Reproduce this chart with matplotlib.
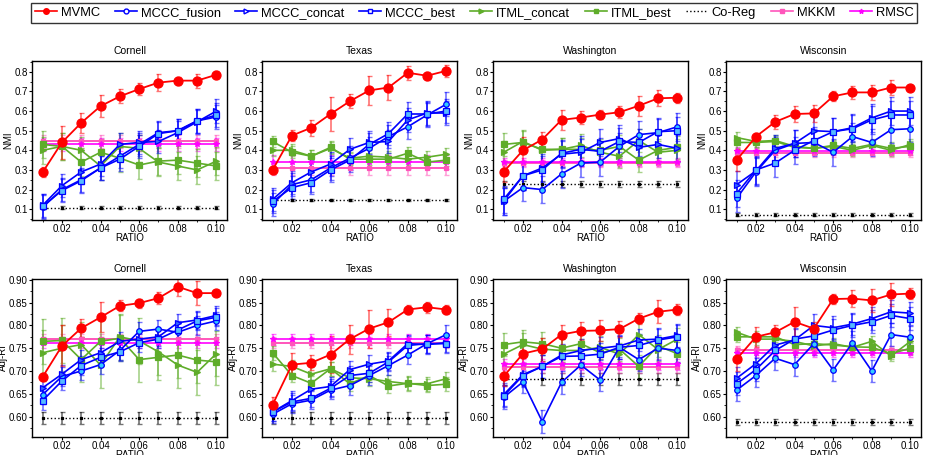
import matplotlib
matplotlib.use('Agg')
import matplotlib.pyplot as plt
from matplotlib.lines import Line2D
from matplotlib.colors import to_rgba
from matplotlib.ticker import MultipleLocator, FormatStrFormatter
import numpy as np

plt.rcParams['font.family'] = ['Liberation Sans', 'DejaVu Sans']

ratio = [0.01, 0.02, 0.03, 0.04, 0.05, 0.06, 0.07, 0.08, 0.09, 0.10]
datasets = ['Cornell', 'Texas', 'Washington', 'Wisconsin']
method_names = ['MVMC', 'MCCC_fusion', 'MCCC_concat', 'MCCC_best', 'ITML_concat',
                'ITML_best', 'Co-Reg', 'MKKM', 'RMSC']

# ---------------- NMI (rows: Cornell, Texas, Washington, Wisconsin) ----------------
mvmc_nmi = [[0.288, 0.44, 0.54, 0.625, 0.675, 0.712, 0.745, 0.755, 0.755, 0.785],
            [0.30, 0.475, 0.515, 0.585, 0.65, 0.705, 0.72, 0.795, 0.78, 0.805],
            [0.29, 0.40, 0.455, 0.555, 0.567, 0.582, 0.594, 0.627, 0.665, 0.668],
            [0.35, 0.47, 0.545, 0.585, 0.588, 0.675, 0.695, 0.695, 0.72, 0.72]]
mvmc_nmi_err = [[0.025, 0.085, 0.05, 0.055, 0.035, 0.03, 0.045, 0.02, 0.035, 0.02],
                [0.02, 0.03, 0.04, 0.085, 0.035, 0.075, 0.065, 0.035, 0.02, 0.03],
                [0.05, 0.07, 0.04, 0.05, 0.035, 0.025, 0.03, 0.05, 0.04, 0.025],
                [0.055, 0.02, 0.035, 0.04, 0.045, 0.025, 0.035, 0.04, 0.04, 0.01]]
fusion_nmi = [[0.11, 0.20, 0.25, 0.31, 0.37, 0.43, 0.49, 0.50, 0.55, 0.57],
              [0.125, 0.225, 0.25, 0.31, 0.36, 0.41, 0.47, 0.52, 0.58, 0.635],
              [0.14, 0.21, 0.20, 0.28, 0.335, 0.34, 0.42, 0.48, 0.49, 0.52],
              [0.155, 0.29, 0.40, 0.435, 0.44, 0.39, 0.47, 0.44, 0.505, 0.51]]
concat_nmi = [[0.12, 0.22, 0.29, 0.33, 0.43, 0.44, 0.445, 0.49, 0.545, 0.60],
              [0.15, 0.235, 0.29, 0.33, 0.405, 0.44, 0.445, 0.555, 0.59, 0.59],
              [0.14, 0.27, 0.31, 0.38, 0.39, 0.44, 0.46, 0.415, 0.43, 0.41],
              [0.225, 0.295, 0.41, 0.435, 0.50, 0.495, 0.515, 0.565, 0.60, 0.60]]
best_nmi = [[0.115, 0.195, 0.245, 0.31, 0.355, 0.42, 0.485, 0.50, 0.55, 0.58],
            [0.14, 0.21, 0.235, 0.30, 0.35, 0.43, 0.485, 0.585, 0.585, 0.60],
            [0.15, 0.27, 0.30, 0.385, 0.405, 0.395, 0.445, 0.44, 0.495, 0.50],
            [0.18, 0.30, 0.335, 0.40, 0.45, 0.495, 0.51, 0.555, 0.58, 0.58]]
mccc_nmi_err = [0.06, 0.06, 0.07, 0.07]
itmlc_nmi = [[0.40, 0.42, 0.40, 0.32, 0.42, 0.41, 0.34, 0.32, 0.30, 0.345],
             [0.40, 0.40, 0.37, 0.41, 0.36, 0.37, 0.365, 0.355, 0.365, 0.38],
             [0.39, 0.445, 0.40, 0.405, 0.425, 0.39, 0.37, 0.45, 0.39, 0.40],
             [0.465, 0.445, 0.45, 0.42, 0.41, 0.42, 0.40, 0.425, 0.40, 0.43]]
itmlb_nmi = [[0.43, 0.42, 0.34, 0.39, 0.36, 0.325, 0.345, 0.35, 0.335, 0.32],
             [0.445, 0.39, 0.37, 0.415, 0.355, 0.355, 0.355, 0.385, 0.34, 0.35],
             [0.43, 0.44, 0.405, 0.405, 0.405, 0.40, 0.42, 0.35, 0.40, 0.415],
             [0.44, 0.44, 0.445, 0.415, 0.41, 0.425, 0.41, 0.43, 0.41, 0.42]]
itml_nmi_err = [0.07, 0.03, 0.06, 0.03]
coreg_nmi = [0.108, 0.148, 0.23, 0.072]
coreg_nmi_err = [0.006, 0.006, 0.015, 0.008]
mkkm_nmi = [0.445, 0.31, 0.333, 0.385]
rmsc_nmi = [0.43, 0.342, 0.34, 0.395]
base_nmi_err = [0.035, 0.035, 0.02, 0.02]

# ---------------- Adj-RI ----------------
mvmc_ari = [[0.687, 0.755, 0.794, 0.818, 0.843, 0.849, 0.86, 0.885, 0.871, 0.871],
            [0.626, 0.714, 0.718, 0.736, 0.77, 0.793, 0.807, 0.835, 0.84, 0.835],
            [0.688, 0.738, 0.748, 0.78, 0.788, 0.789, 0.792, 0.815, 0.83, 0.835],
            [0.726, 0.775, 0.785, 0.808, 0.793, 0.858, 0.859, 0.855, 0.868, 0.87]]
mvmc_ari_err = [[0.008, 0.045, 0.02, 0.033, 0.012, 0.01, 0.013, 0.02, 0.027, 0.005],
                [0.017, 0.025, 0.016, 0.04, 0.032, 0.042, 0.03, 0.01, 0.012, 0.01],
                [0.02, 0.025, 0.025, 0.022, 0.02, 0.023, 0.018, 0.012, 0.025, 0.013],
                [0.025, 0.022, 0.015, 0.033, 0.015, 0.012, 0.018, 0.025, 0.025, 0.012]]
fusion_ari = [[0.648, 0.688, 0.70, 0.714, 0.745, 0.787, 0.792, 0.785, 0.80, 0.81],
              [0.605, 0.628, 0.636, 0.658, 0.668, 0.69, 0.712, 0.735, 0.76, 0.78],
              [0.642, 0.676, 0.589, 0.675, 0.713, 0.68, 0.752, 0.725, 0.75, 0.745],
              [0.658, 0.69, 0.728, 0.714, 0.76, 0.702, 0.762, 0.70, 0.78, 0.774]]
concat_ari = [[0.663, 0.693, 0.725, 0.74, 0.765, 0.77, 0.775, 0.806, 0.812, 0.822],
              [0.61, 0.635, 0.66, 0.666, 0.703, 0.715, 0.722, 0.76, 0.758, 0.762],
              [0.648, 0.692, 0.71, 0.735, 0.745, 0.75, 0.755, 0.768, 0.77, 0.778],
              [0.684, 0.716, 0.757, 0.768, 0.80, 0.795, 0.803, 0.815, 0.83, 0.827]]
best_ari = [[0.635, 0.678, 0.712, 0.73, 0.742, 0.762, 0.77, 0.79, 0.81, 0.818],
            [0.61, 0.632, 0.64, 0.662, 0.69, 0.695, 0.72, 0.756, 0.76, 0.76],
            [0.645, 0.69, 0.71, 0.732, 0.733, 0.737, 0.752, 0.756, 0.768, 0.775],
            [0.672, 0.703, 0.745, 0.77, 0.777, 0.79, 0.80, 0.808, 0.822, 0.815]]
mccc_ari_err = [0.02, 0.02, 0.025, 0.025]
itmlc_ari = [[0.74, 0.75, 0.758, 0.713, 0.775, 0.766, 0.742, 0.713, 0.697, 0.738],
             [0.715, 0.71, 0.693, 0.705, 0.685, 0.683, 0.677, 0.672, 0.672, 0.683],
             [0.737, 0.758, 0.748, 0.745, 0.745, 0.752, 0.737, 0.78, 0.747, 0.77],
             [0.785, 0.77, 0.77, 0.765, 0.755, 0.76, 0.752, 0.765, 0.733, 0.765]]
itmlb_ari = [[0.765, 0.767, 0.725, 0.765, 0.772, 0.725, 0.73, 0.735, 0.724, 0.72],
             [0.74, 0.69, 0.673, 0.705, 0.672, 0.69, 0.667, 0.673, 0.668, 0.671],
             [0.758, 0.764, 0.76, 0.75, 0.76, 0.74, 0.748, 0.71, 0.755, 0.738],
             [0.775, 0.775, 0.775, 0.758, 0.76, 0.757, 0.753, 0.752, 0.738, 0.75]]
itml_ari_err = [0.05, 0.015, 0.025, 0.012]
coreg_ari = [0.596, 0.596, 0.683, 0.588]
coreg_ari_err = [0.013, 0.013, 0.013, 0.006]
mkkm_ari = [0.77, 0.762, 0.708, 0.745]
rmsc_ari = [0.762, 0.77, 0.715, 0.74]
base_ari_err = [0.012, 0.012, 0.012, 0.01]

styles = {
    'MVMC': dict(color='#ff0000', marker='o', ms=6.5, mfc='#ff0000', lw=1.3),
    'MCCC_fusion': dict(color='#0000ff', marker='o', ms=4, mfc='#33ccff', lw=1.2),
    'MCCC_concat': dict(color='#0000ff', marker='>', ms=4, mfc='#3366ff', lw=1.2),
    'MCCC_best': dict(color='#0000ff', marker='s', ms=4, mfc='#55bbff', lw=1.2),
    'ITML_concat': dict(color='#5fad2a', marker='>', ms=4, mfc='#5fad2a', lw=1.2),
    'ITML_best': dict(color='#5fad2a', marker='s', ms=4, mfc='#5fad2a', lw=1.2),
    'Co-Reg': dict(color='black', marker='s', ms=2, mfc='black', lw=1.0, ls=':'),
    'MKKM': dict(color='#ff55bb', marker='s', ms=3, mfc='#ff55bb', lw=1.4),
    'RMSC': dict(color='#ff00ff', marker='*', ms=4, mfc='#ff00ff', lw=1.2),
}

fig = plt.figure(figsize=(9.25, 4.55), dpi=100)

lefts = [32, 262, 493, 726]
width = 195
rows = [(61, 220), (279, 437)]
FS = 7


def draw(ax, name, y, err):
    st = styles[name]
    x = np.array(ratio)
    y = np.array(y, dtype=float)
    err = np.broadcast_to(np.array(err, dtype=float), y.shape)
    ecol = to_rgba(st['color'], 0.55)
    ax.errorbar(x, y, yerr=err, fmt='none', ecolor=ecol, elinewidth=1.2,
                capsize=1.8, capthick=1.0, zorder=2)
    ax.plot(x, y, color=st['color'], ls=st.get('ls', '-'), lw=st['lw'],
            marker=st['marker'], ms=st['ms'], mfc=st['mfc'], mec=st['color'],
            mew=0.9, zorder=3)


for r, metric in enumerate(['NMI', 'Adj-RI']):
    top, bot = rows[r]
    for c, dname in enumerate(datasets):
        ax = fig.add_axes([lefts[c] / 925, 1 - bot / 455, width / 925, (bot - top) / 455])
        if metric == 'NMI':
            series = [(mvmc_nmi[c], mvmc_nmi_err[c], 'MVMC'),
                      (fusion_nmi[c], mccc_nmi_err[c], 'MCCC_fusion'),
                      (concat_nmi[c], mccc_nmi_err[c], 'MCCC_concat'),
                      (best_nmi[c], mccc_nmi_err[c], 'MCCC_best'),
                      (itmlc_nmi[c], itml_nmi_err[c], 'ITML_concat'),
                      (itmlb_nmi[c], itml_nmi_err[c], 'ITML_best'),
                      ([coreg_nmi[c]] * len(ratio), coreg_nmi_err[c], 'Co-Reg'),
                      ([mkkm_nmi[c]] * len(ratio), base_nmi_err[c], 'MKKM'),
                      ([rmsc_nmi[c]] * len(ratio), base_nmi_err[c], 'RMSC')]
        else:
            series = [(mvmc_ari[c], mvmc_ari_err[c], 'MVMC'),
                      (fusion_ari[c], mccc_ari_err[c], 'MCCC_fusion'),
                      (concat_ari[c], mccc_ari_err[c], 'MCCC_concat'),
                      (best_ari[c], mccc_ari_err[c], 'MCCC_best'),
                      (itmlc_ari[c], itml_ari_err[c], 'ITML_concat'),
                      (itmlb_ari[c], itml_ari_err[c], 'ITML_best'),
                      ([coreg_ari[c]] * len(ratio), coreg_ari_err[c], 'Co-Reg'),
                      ([mkkm_ari[c]] * len(ratio), base_ari_err[c], 'MKKM'),
                      ([rmsc_ari[c]] * len(ratio), base_ari_err[c], 'RMSC')]
        # draw order: baselines first, MVMC on top
        for y, e, n in series[6:] + series[4:6] + series[1:4] + series[:1]:
            draw(ax, n, y, e)
        ax.set_xlim(0.0045, 0.1055)
        ax.xaxis.set_major_locator(MultipleLocator(0.02))
        ax.xaxis.set_minor_locator(MultipleLocator(0.01))
        ax.xaxis.set_major_formatter(FormatStrFormatter('%.2f'))
        if metric == 'NMI':
            ax.set_ylim(0.045, 0.855)
            ax.yaxis.set_major_locator(MultipleLocator(0.1))
            ax.yaxis.set_minor_locator(MultipleLocator(0.05))
            ax.yaxis.set_major_formatter(FormatStrFormatter('%.1f'))
        else:
            ax.set_ylim(0.555, 0.902)
            ax.yaxis.set_major_locator(MultipleLocator(0.05))
            ax.yaxis.set_minor_locator(MultipleLocator(0.025))
            ax.yaxis.set_major_formatter(FormatStrFormatter('%.2f'))
        ax.tick_params(which='major', direction='out', length=2.2, width=0.8,
                       labelsize=FS, pad=0.8)
        ax.tick_params(which='minor', direction='out', length=1.3, width=0.6)
        for sp in ax.spines.values():
            sp.set_linewidth(1.0)
        ax.set_title(dname, fontsize=7.5, pad=5)
        ax.set_ylabel(metric, fontsize=FS, labelpad=0.5)
        ax.set_xlabel('RATIO', fontsize=FS, labelpad=-0.5)

# legend
handles = []
for n in method_names:
    st = styles[n]
    if n == 'Co-Reg':
        h = Line2D([], [], color='black', ls=':', lw=1.0)
    else:
        h = Line2D([], [], color=st['color'], ls='-', lw=1.2, marker=st['marker'],
                   ms=4 if n == 'MVMC' else 3.5,
                   mfc=st['color'] if n in ('MVMC', 'ITML_concat', 'ITML_best', 'MKKM', 'RMSC') else 'white',
                   mec=st['color'])
    handles.append(h)
leg = fig.legend(handles, method_names, loc='upper left',
                 bbox_to_anchor=(31 / 925, 1 - 3 / 455), ncol=9, fontsize=9.3,
                 frameon=True, fancybox=False, edgecolor='black', handlelength=1.7,
                 handletextpad=0.3, columnspacing=1.15, borderpad=0.3, borderaxespad=0)
leg.get_frame().set_linewidth(1.0)

fig.savefig('out.png', dpi=100)
